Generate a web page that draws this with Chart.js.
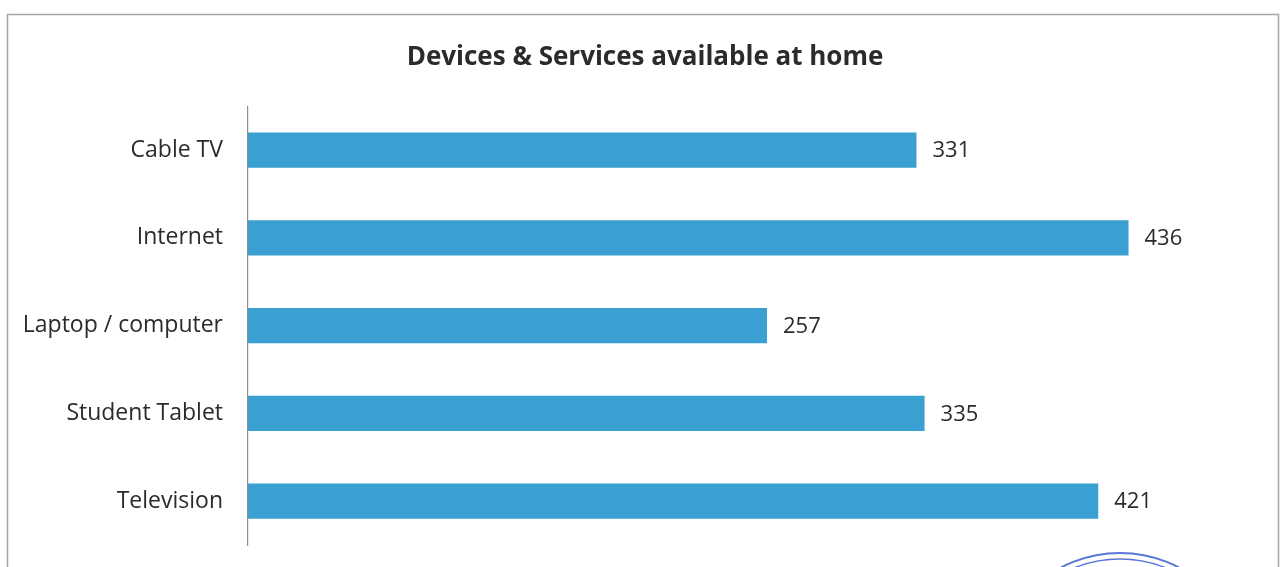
<!DOCTYPE html>
<html>
<head>
<meta charset="utf-8">
<title>Devices & Services available at home</title>
<script src="https://cdn.jsdelivr.net/npm/chart.js@4/dist/chart.umd.min.js"></script>
<style>
  html, body { margin: 0; padding: 0; background: #fff; }
  #wrap { width: 1281px; height: 567px; position: relative; }
</style>
</head>
<body>
<div id="wrap"><canvas id="canvas" width="1281" height="567"></canvas></div>
<script>
// categories and counts
const categories = ["Cable TV", "Internet", "Laptop / computer", "Student Tablet", "Television"];
const counts = [331, 436, 257, 335, 421];

const barColor = "#3a9fd1";
const textColor = "#2b2b2b";

// gray page frame + stamp edge at the bottom
const framePlugin = {
  id: "frame",
  beforeDraw(chart) {
    const c = chart.ctx;
    c.save();
    c.strokeStyle = "#a5a5a5";
    c.lineWidth = 1.5;
    c.beginPath();
    c.moveTo(7.5, 580);
    c.lineTo(7.5, 14.5);
    c.lineTo(1278.5, 14.5);
    c.lineTo(1278.5, 580);
    c.stroke();
    c.restore();
  },
  afterDraw(chart) {
    const c = chart.ctx;
    c.save();
    c.strokeStyle = "rgba(60,95,205,0.85)";
    c.lineWidth = 2;
    c.beginPath();
    c.arc(1120, 680, 127, 0, Math.PI * 2);
    c.stroke();
    c.lineWidth = 1.4;
    c.beginPath();
    c.arc(1120, 683, 124, 0, Math.PI * 2);
    c.stroke();
    c.restore();
  }
};

// value labels to the right of each bar
const valueLabels = {
  id: "valueLabels",
  afterDatasetsDraw(chart) {
    const c = chart.ctx;
    const meta = chart.getDatasetMeta(0);
    c.save();
    c.font = "22px 'Open Sans'";
    c.fillStyle = textColor;
    c.textAlign = "left";
    c.textBaseline = "middle";
    meta.data.forEach((bar, i) => {
      c.fillText(String(counts[i]), bar.x + 16, bar.y + 1);
    });
    c.restore();
  }
};

var ctx = document.getElementById("canvas").getContext("2d");
var chart = new Chart(ctx, {
  type: "bar",
  data: {
    labels: categories,
    datasets: [{
      data: counts,
      backgroundColor: barColor,
      borderWidth: 0,
      categoryPercentage: 0.8,
      barPercentage: 0.5
    }]
  },
  options: {
    indexAxis: "y",
    responsive: false,
    animation: false,
    events: [],
    layout: { padding: { top: 26, left: 10, right: 1, bottom: 22 } },
    plugins: {
      legend: { display: false },
      tooltip: { enabled: false },
      title: {
        display: true,
        text: "Devices & Services available at home",
        color: textColor,
        font: { family: "'Open Sans'", size: 26, weight: "bold" },
        padding: { top: 16, bottom: 33 }
      }
    },
    scales: {
      x: {
        display: false,
        min: 0,
        max: 511
      },
      y: {
        afterFit(scale) {
          scale.width = 238;
          scale.paddingTop = 0;
          scale.paddingBottom = 0;
        },
        grid: { display: false, drawTicks: false },
        border: { display: true, color: "#8c8c8c", width: 1.2 },
        ticks: {
          color: textColor,
          padding: 25,
          font: { family: "'Open Sans'", size: 23 }
        }
      }
    }
  },
  plugins: [framePlugin, valueLabels]
});
</script>
</body>
</html>
